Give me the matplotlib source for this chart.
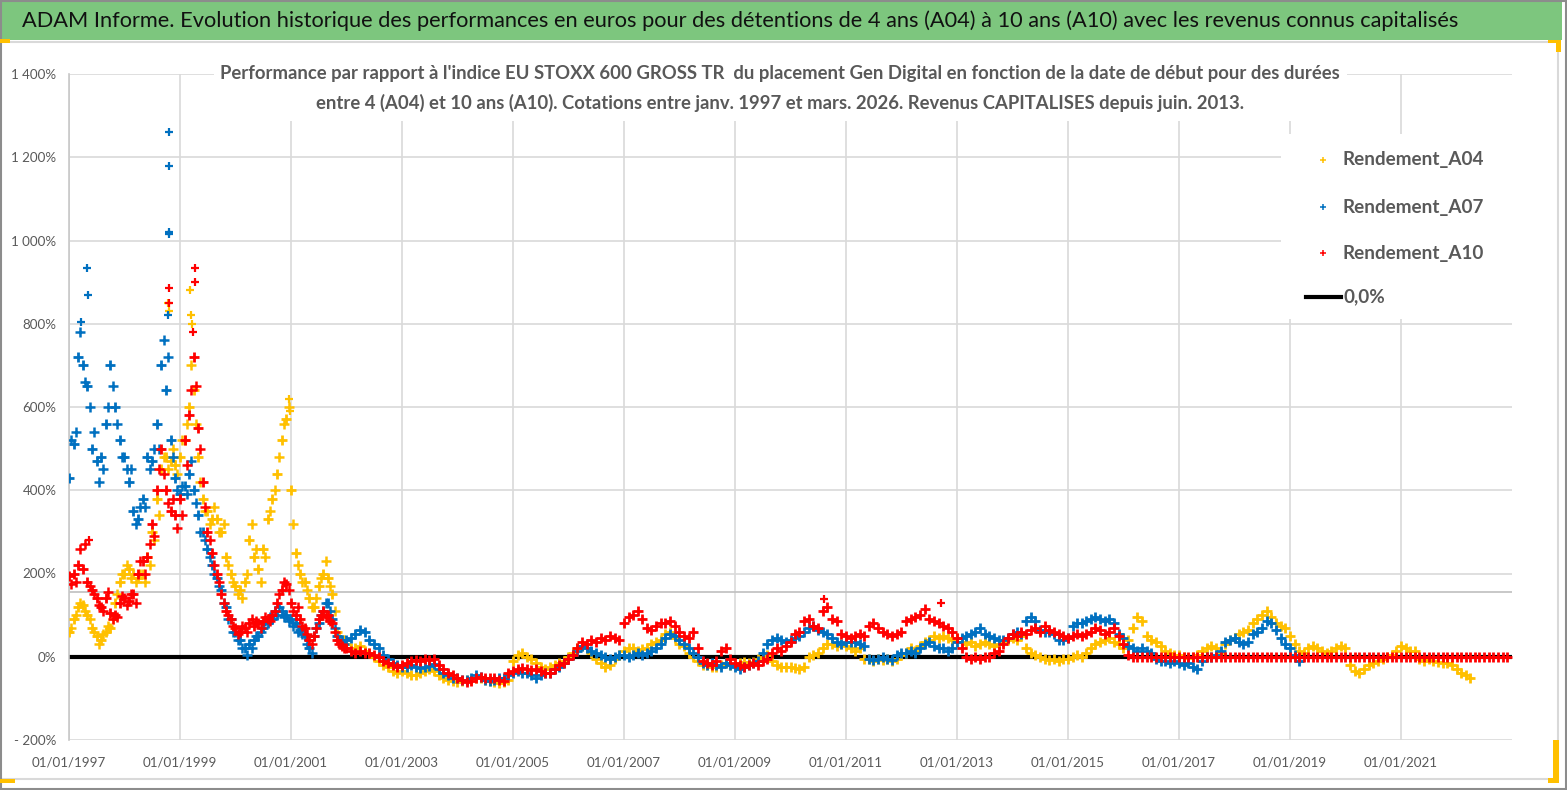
import matplotlib
matplotlib.use('Agg')
import matplotlib.pyplot as plt
import matplotlib.dates as mdates
from matplotlib import font_manager
from matplotlib.patches import Rectangle
from matplotlib.lines import Line2D
from matplotlib.ticker import FuncFormatter, MultipleLocator
import pandas as pd

# valeurs mensuelles (en %), une ligne par annee
A04 = [
    60, 90, 120, 125, 100, 70, 50, 40, 60, 70, 130, 180,            # 1997
    200, 210, 200, 190, 200, 240, 300, 380, 450, 480, 470, 460,     # 1998
    480, 520, 600, 640, 480, 380, 350, 330, 330, 300, 240, 200,     # 1999
    170, 160, 180, 280, 240, 210, 260, 330, 380, 440, 520, 570,     # 2000
    400, 250, 200, 180, 140, 120, 170, 200, 190, 150, 60, 35,       # 2001
    30, 20, 20, 25, 15, 10, 0, -10, -20, -25, -35, -40,             # 2002
    -35, -40, -45, -45, -40, -35, -30, -35, -45, -50, -55, -58,     # 2003
    -60, -58, -55, -55, -50, -52, -55, -58, -60, -62, -60, -55,     # 2004
    -10, 5, 10, 0, -5, -15, -25, -30, -25, -20, -15, -10,           # 2005
    0, 10, 20, 25, 20, 10, -5, -15, -25, -20, -5, 5,                # 2006
    15, 20, 20, 15, 18, 20, 30, 35, 40, 55, 60, 45,                 # 2007
    30, 25, 10, 0, -10, -20, -20, -25, -25, -20, -15, -20,          # 2008
    -20, -15, -12, -15, -12, -5, 0, 5, -10, -20, -25, -25,          # 2009
    -25, -28, -30, -25, 0, 5, 10, 20, 30, 30, 25, 30,               # 2010
    25, 20, 15, 20, -5, -5, -10, -5, -8, -5, -10, -5,               # 2011
    5, 10, 20, 15, 25, 35, 40, 50, 45, 50, 45, 40,                  # 2012
    45, 35, 30, 35, 25, 30, 35, 30, 25, 30, 35, 40,                 # 2013
    45, 40, 50, 20, 10, 5, 0, -5, -8, -5, -10, -5,                  # 2014
    -5, 0, 5, 0, 10, 20, 30, 35, 40, 45, 35, 30,                    # 2015
    20, 40, 70, 95, 85, 50, 40, 35, 25, 15, 10, 5,                  # 2016
    5, 0, -3, 0, 5, 15, 20, 25, 20, 10, 30, 40,                     # 2017
    45, 55, 60, 65, 80, 90, 100, 110, 95, 80, 75, 70,               # 2018
    50, 30, 15, 10, 20, 25, 20, 15, 10, 15, 20, 25,                 # 2019
    20, -20, -35, -40, -30, -20, -15, -10, -5, 0, 5, 15,            # 2020
    25, 20, 15, 15, -5, -10, -5, -10, -12, -15, -15, -20,           # 2021
    -30, -38, -45, -52,                                             # 2022
]
A07 = [
    430, 510, 720, 700, 650, 500, 470, 480, 560, 700, 600, 520,     # 1997
    480, 420, 350, 330, 380, 480, 470, 560, 700, 640, 520, 430,     # 1998
    390, 410, 440, 400, 340, 300, 260, 220, 190, 160, 120, 90,      # 1999
    60, 40, 20, 30, 40, 50, 70, 80, 90, 100, 110, 100,              # 2000
    90, 80, 65, 50, 20, 50, 80, 110, 130, 90, 50, 40,               # 2001
    40, 45, 55, 65, 60, 40, 30, 20, 5, -5, -15, -20,                # 2002
    -25, -25, -20, -25, -28, -25, -22, -18, -30, -38, -45, -50,     # 2003
    -52, -55, -55, -50, -45, -48, -55, -58, -55, -50, -52, -45,     # 2004
    -40, -35, -38, -40, -45, -50, -45, -40, -38, -30, -25, -15,     # 2005
    -5, 5, 15, 25, 20, 15, 10, 5, 0, -5, 0, 5,                      # 2006
    5, 0, 5, 10, 5, 10, 15, 20, 30, 45, 55, 50,                     # 2007
    40, 30, 20, 10, 0, -15, -20, -15, -20, -25, -15, -20,           # 2008
    -25, -30, -25, -20, -15, -10, 10, 30, 40, 45, 40, 35,           # 2009
    40, 45, 50, 60, 70, 75, 65, 60, 55, 45, 35, 30,                 # 2010
    35, 35, 35, 30, 25, -5, -8, -5, 0, -5, -8, 5,                   # 2011
    10, 10, 15, 10, 20, 30, 35, 25, 20, 20, 15, 20,                 # 2012
    35, 45, 50, 55, 60, 70, 55, 50, 45, 40, 40, 45,                 # 2013
    55, 60, 55, 85, 95, 85, 65, 60, 60, 55, 40, 40,                 # 2014
    45, 75, 80, 80, 85, 90, 95, 90, 85, 90, 80, 55,                 # 2015
    45, 25, 20, 15, 20, 15, 10, -5, -10, -10, -15, -10,             # 2016
    -15, -20, -15, -25, -30, -10, 0, 0, 5, 15, 35, 40,              # 2017
    45, 35, 30, 35, 55, 60, 70, 85, 80, 65, 45, 30,                 # 2018
    20, 5, -10,                                                     # 2019
]
A10 = [
    195, 200, 220, 210, 180, 160, 140, 120, 140, 105, 100, 130,     # 1997
    140, 135, 150, 200, 230, 240, 320, 400, 500, 400, 350, 340,     # 1998
    380, 520, 580, 720, 550, 420, 300, 250, 200, 150, 110, 90,      # 1999
    70, 60, 70, 80, 75, 80, 85, 90, 100, 130, 160, 175,             # 2000
    130, 100, 90, 70, 40, 50, 90, 110, 100, 80, 40, 25,             # 2001
    20, 15, 10, 15, 10, 10, 5, 0, -10, -15, -20, -25,               # 2002
    -20, -15, -10, -8, -10, -5, -8, -5, -20, -30, -40, -45,         # 2003
    -50, -55, -60, -58, -50, -48, -50, -52, -50, -55, -58, -40,     # 2004
    -35, -30, -28, -30, -32, -30, -35, -40, -38, -30, -20, -15,     # 2005
    -5, 5, 20, 35, 30, 40, 35, 45, 40, 50, 45, 40,                  # 2006
    80, 95, 100, 110, 90, 70, 65, 75, 80, 80, 85, 75,               # 2007
    60, 50, 45, 60, 20, -10, -15, -20, -10, 15, 20, -5,             # 2008
    -15, -20, -25, -20, -15, -20, -10, -5, 10, 20, 15, 25,          # 2009
    35, 55, 60, 85, 90, 75, 70, 110, 120, 90, 85, 55,               # 2010
    50, 45, 50, 55, 50, 75, 80, 70, 60, 55, 50, 55,                 # 2011
    60, 85, 90, 95, 100, 115, 90, 85, 80, 75, 70, 60,               # 2012
    45, 20, 0, -5, 0, -5, 0, 0, 10, 15, 30, 45,                     # 2013
    55, 50, 60, 55, 65, 70, 60, 75, 65, 60, 55, 50,                 # 2014
    45, 50, 55, 50, 55, 60, 70, 65, 55, 60, 70, 50,                 # 2015
    30, 5, 0, 0, 0, 0, 0, 0, 0, 0, 0, 0,                            # 2016
    0, 0, 0, 0, 0, 0, 0, 0, 0, 0, 0, 0,                             # 2017
    0, 0, 0, 0, 0, 0, 0, 0, 0, 0, 0, 0,                             # 2018
    0, 0, 0, 0, 0, 0, 0, 0, 0, 0, 0, 0,                             # 2019
    0, 0, 0, 0, 0, 0, 0, 0, 0, 0, 0, 0,                             # 2020
    0, 0, 0, 0, 0, 0, 0, 0, 0, 0, 0, 0,                             # 2021
    0, 0, 0, 0, 0, 0, 0, 0, 0, 0, 0, 0,                             # 2022
]

# seconde lecture en milieu de mois (1997-2001), l'autre bord du nuage de points
A04_mi = [
    70, 100, 130, 110, 90, 60, 30, 55, 75, 90, 150, 200,            # 1997
    220, 190, 180, 200, 180, 220, 280, 340, 480, 450, 500, 440,     # 1998
    520, 560, 700, 560, 420, 350, 320, 360, 300, 320, 220, 180,     # 1999
    150, 140, 200, 320, 260, 180, 240, 350, 400, 480, 560, 600,     # 2000
    320, 220, 180, 160, 120, 140, 190, 230, 170, 110, 50, 40,       # 2001
]
A07_mi = [
    520, 540, 780, 660, 600, 540, 420, 450, 600, 650, 560, 480,     # 1997
    450, 450, 320, 360, 360, 450, 500, 500, 760, 720, 480, 400,     # 1998
    410, 390, 470, 370, 300, 280, 240, 200, 170, 130, 90, 60,       # 1999
    40, 20, 5, 20, 50, 60, 85, 95, 110, 120, 95, 85,                # 2000
    75, 60, 55, 30, 10, 70, 100, 130, 110, 70, 40, 30,              # 2001
]
A10_mi = [
    175, 180, 260, 270, 170, 150, 125, 110, 155, 90, 95, 145,       # 1997
    125, 150, 130, 230, 200, 270, 290, 450, 440, 370, 380, 310,     # 1998
    340, 460, 640, 650, 500, 360, 280, 220, 180, 130, 100, 75,      # 1999
    55, 75, 60, 90, 85, 70, 95, 85, 110, 150, 180, 160,             # 2000
    110, 120, 75, 55, 30, 70, 100, 95, 85, 60, 30, 20,              # 2001
]

# points isoles (pics) hors de la tendance mensuelle
pics_A04_dates = ['1998-10-12', '1998-10-20', '1999-03-10', '1999-03-15', '1999-03-22', '2000-12-20', '2000-12-28']
pics_A04 = [850, 830, 880, 820, 800, 620, 590]
pics_A07_dates = ['1997-05-01', '1997-05-03', '1997-03-20', '1998-10-18', '1998-10-19', '1998-10-21', '1998-10-22', '1998-10-12']
pics_A07 = [935, 870, 805, 1260, 1180, 1020, 1015, 820]
pics_A10_dates = ['1998-10-18', '1998-10-20', '1999-04-07', '1999-04-12', '1999-03-28', '1997-05-10', '2010-08-10', '2012-09-15']
pics_A10 = [885, 850, 935, 900, 780, 280, 138, 130]

ligne_zero = 0.0
ligne_grise = 155
annees_ticks = [1997, 1999, 2001, 2003, 2005, 2007, 2009, 2011, 2013, 2015, 2017, 2019, 2021]

titre = ("ADAM Informe. Evolution historique des performances en euros pour des détentions "
         "de 4 ans (A04) à 10 ans (A10) avec les revenus connus capitalisés")
sous_titre_1 = ("Performance par rapport à l'indice EU STOXX 600 GROSS TR  du placement Gen Digital "
                "en fonction de la date de début pour des durées")
sous_titre_2 = ("entre 4 (A04) et 10 ans (A10). Cotations entre janv. 1997 et mars. 2026. "
                "Revenus CAPITALISES depuis juin. 2013.")

series = [
    ('Rendement_A04', A04, A04_mi, pics_A04_dates, pics_A04, '#FFC000'),
    ('Rendement_A07', A07, A07_mi, pics_A07_dates, pics_A07, '#0070C0'),
    ('Rendement_A10', A10, A10_mi, pics_A10_dates, pics_A10, '#FF0000'),
]

noms = {f.name for f in font_manager.fontManager.ttflist}
police = next(p for p in ['Liberation Sans Narrow', 'Lato', 'Open Sans', 'DejaVu Sans'] if p in noms)
plt.rcParams['font.family'] = [police, 'DejaVu Sans']

W, H = 1567, 790
fig = plt.figure(figsize=(W / 100, H / 100), dpi=100)
fig.patch.set_facecolor('white')
gris = '#595959'


def boite(x0, y0, x1, y1, **kw):
    fig.add_artist(Rectangle((x0 / W, 1 - y1 / H), (x1 - x0) / W, (y1 - y0) / H,
                             transform=fig.transFigure, **kw))


def ajuste(t, largeur):
    r = fig.canvas.get_renderer()
    t.set_fontsize(t.get_fontsize() * largeur / t.get_window_extent(r).width)
    return t.get_fontsize()


# cadre et bandeau
boite(0, 0, 1562, 40, facecolor='#7DC67E', edgecolor='none', zorder=1)
boite(0, 42, 1558, 779, facecolor='none', edgecolor='#D9D9D9', lw=1.5, zorder=1)
boite(0.5, 0.5, 1566, 789, facecolor='none', edgecolor='#8C8C8C', lw=1.5, zorder=1)
for r in [(0, 39, 10, 43), (1548, 40, 1561, 43), (1556, 40, 1561, 52),
          (0, 779, 15, 783), (1553, 740, 1559, 783), (1548, 778, 1559, 783)]:
    boite(*r, facecolor='#FFC000', edgecolor='none', zorder=2)

t = fig.text(22 / W, 1 - 21 / H, titre, ha='left', va='center', fontsize=17, color='#111111')
ajuste(t, 1438)

# taille des graduations calee sur la largeur d'une etiquette de date
essai = fig.text(0, 0, '01/01/1997', fontsize=12)
taille_ticks = ajuste(essai, 74)
essai.remove()

ax = fig.add_axes([69 / W, 1 - 740 / H, (1512 - 69) / W, (740 - 74) / H])
ax.set_ylim(-200, 1400)
ax.yaxis.set_major_locator(MultipleLocator(200))


def pct(v, pos):
    s = f'{abs(v):,.0f}'.replace(',', '\u202f') + '%'
    return '- ' + s if v < 0 else s


ax.yaxis.set_major_formatter(FuncFormatter(pct))
ax.set_xlim(pd.Timestamp('1997-01-01'), pd.Timestamp('2023-01-01'))
ax.set_xticks([pd.Timestamp(f'{a}-01-01') for a in annees_ticks])
ax.xaxis.set_major_formatter(mdates.DateFormatter('%d/%m/%Y'))
ax.grid(True, color='#D9D9D9', lw=1.2)
ax.set_axisbelow(True)
for s in ['top', 'right', 'bottom']:
    ax.spines[s].set_visible(False)
ax.spines['left'].set_color('#C8C8C8')
ax.spines['left'].set_linewidth(1.2)
ax.tick_params(axis='both', length=0, labelsize=taille_ticks, colors=gris)
ax.tick_params(axis='x', pad=12)
ax.tick_params(axis='y', pad=9)

ax.axhline(ligne_grise, color='#BFBFBF', lw=1.2, zorder=1.5)
ax.axhline(ligne_zero, color='black', lw=3, zorder=2)

debut = pd.Timestamp('1997-01-01')
for i, (nom, vals, vals_mi, pdates, pvals, coul) in enumerate(series):
    dates = pd.date_range(debut, periods=len(vals), freq='MS')
    dates_mi = pd.date_range(debut, periods=len(vals_mi), freq='MS') + pd.Timedelta(days=15)
    style = dict(ls='none', marker='+', color=coul, zorder=3 + i)
    ax.plot(dates, vals, ms=7.5, mew=2.0, **style)
    ax.plot(dates_mi, vals_mi, ms=7, mew=1.8, **style)
    ax.plot(pd.to_datetime(pdates), pvals, ms=6, mew=1.6, **style)

# sous-titre sur fond blanc
boite(214, 58, 1347, 121, facecolor='white', edgecolor='none', zorder=2)
s1 = fig.text(780 / W, 1 - 73 / H, sous_titre_1, ha='center', va='center', fontsize=14,
              color=gris, fontweight='bold', zorder=3)
ajuste(s1, 1126)
s2 = fig.text(780 / W, 1 - 103 / H, sous_titre_2, ha='center', va='center',
              fontsize=s1.get_fontsize(), color=gris, fontweight='bold', zorder=3)

# legende
boite(1281, 134, 1516, 319, facecolor='white', edgecolor='none', zorder=2)
ys = [160, 207, 253]
taille = None
for (nom, vals, vals_mi, pdates, pvals, coul), y in zip(series, ys):
    fig.add_artist(Line2D([1323 / W], [1 - y / H], transform=fig.transFigure, ls='none',
                          marker='+', ms=5, mew=1.1, color=coul, zorder=3))
    lt = fig.text(1343 / W, 1 - y / H, nom, ha='left', va='center', fontsize=15,
                  color=gris, fontweight='bold', zorder=3)
    if taille is None:
        taille = ajuste(lt, 141)
    lt.set_fontsize(taille)
fig.add_artist(Line2D([1306 / W, 1341 / W], [1 - 297 / H] * 2, transform=fig.transFigure,
                      color='black', lw=3, zorder=3))
fig.text(1343 / W, 1 - 297 / H, '0,0%', ha='left', va='center', fontsize=taille,
         color=gris, fontweight='bold', zorder=3)

fig.savefig('out.png', dpi=100)
